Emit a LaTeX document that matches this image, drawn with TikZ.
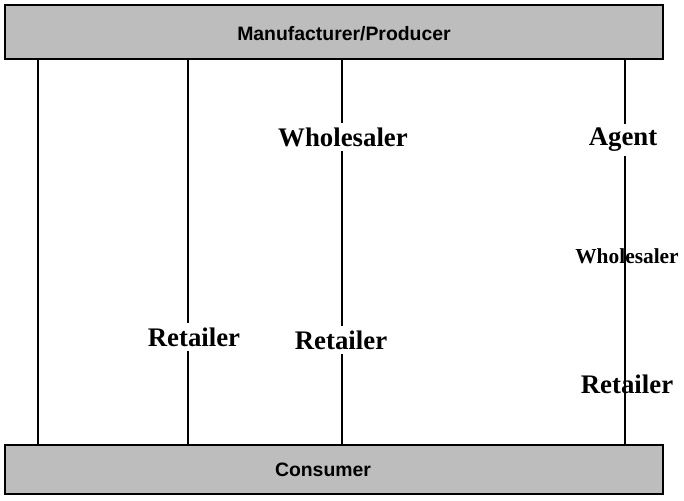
\documentclass[tikz,border=0pt]{standalone}
\usepackage{fontspec}
\setmainfont{Liberation Serif}
\newfontfamily\barfont{Liberation Sans}
\usepackage{tikz}
\usetikzlibrary{positioning}

\begin{document}
\begin{tikzpicture}[x=0.5pt, y=-0.5pt]
  \tikzstyle{line}=[draw, line width=0.7pt]
  \tikzstyle{bar} = [rectangle, draw=black, line width=0.6pt, fill=black!26, minimum width=329pt, text centered, font=\barfont\bfseries\fontsize{9.7}{11}\selectfont]
  \tikzstyle{level} = [inner sep=2pt, font=\bfseries\fontsize{13.4}{15}\selectfont]
  \tikzstyle{slevel} = [inner sep=2pt, font=\bfseries\fontsize{10.7}{12}\selectfont]

  \useasboundingbox (0,0) rectangle (684,501);

  \node (producer) [bar, minimum height=27pt] at (334,32) {};
  \node at (344,34) [font=\barfont\bfseries\fontsize{9.7}{11}\selectfont] {Manufacturer/Producer};
  \node (consumer) [bar, minimum height=24.5pt] at (334,469.5) {};
  \node at (323,470) [font=\barfont\bfseries\fontsize{9.7}{11}\selectfont] {Consumer};

  \coordinate (col1) at (38,0);
  \coordinate (col2) at (188,0);
  \coordinate (col3) at (342,0);
  \coordinate (col4) at (625,0);

  \node (retailer1) [level] at (194,337) {Retailer};
  \node (wholesaler2) [level] at (343,137) {Wholesaler};
  \node (retailer2) [level] at (341,340) {Retailer};
  \node (agent) [level] at (623,140) {Agent};
  \node (wholesaler3) [slevel] at (627,256) {Wholesaler};
  \node (retailer3) [level] at (627,384) {Retailer};

  \draw [line] (col1 |- producer.south) -- (col1 |- consumer.north);
  \draw [line] (col2 |- producer.south) -- (col2 |- retailer1.north);
  \draw [line] (col2 |- retailer1.south) -- (col2 |- consumer.north);
  \draw [line] (col3 |- producer.south) -- (col3 |- wholesaler2.north);
  \draw [line] (col3 |- wholesaler2.south) -- (col3 |- retailer2.north);
  \draw [line] (col3 |- retailer2.south) -- (col3 |- consumer.north);
  \draw [line] (col4 |- producer.south) -- (col4 |- agent.north);
  \draw [line] (col4 |- agent.south) -- (col4 |- consumer.north);

\end{tikzpicture}
\end{document}
